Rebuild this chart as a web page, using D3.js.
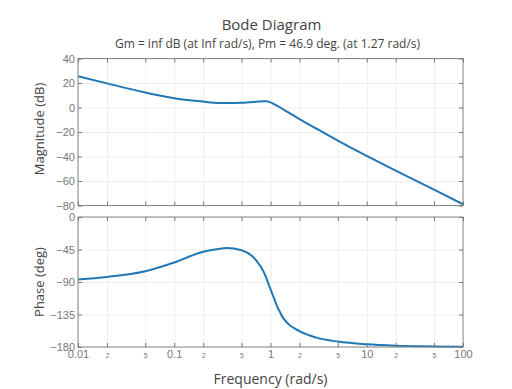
<!DOCTYPE html>
<html>
<head>
<meta charset="utf-8">
<script src="https://cdn.jsdelivr.net/npm/d3@7"></script>
<style>
  body { margin: 0; background: #fff; }
  svg { font-family: "Open Sans", sans-serif; }
  .grid line { stroke: #eee; }
  .grid .domain { display: none; }
  .ax .domain { display: none; }
  .ax line { stroke: #777; }
  .ax text { fill: #777; }
</style>
</head>
<body>
<svg id="chart"></svg>
<script>
// frequencies (rad/s)
const freqs = [0.01, 0.02, 0.05, 0.1, 0.2, 0.3, 0.35, 0.5, 0.7, 0.85, 0.9, 1.0, 1.1, 1.2, 1.25, 1.3, 1.5, 2, 3, 5, 10, 20, 50, 100];
// magnitude in dB
const magnitude = [25.5, 19.7, 12.2, 7.6, 4.8, 3.7, 3.6, 3.8, 4.6, 5.2, 5.2, 4.2, 2.6, 1.0, 0.2, -0.6, -3.6, -9.5, -17.3, -27, -39.5, -51.5, -67, -79];
// phase in degrees
const phase = [-86.5, -83, -75, -63, -48, -43.8, -43, -46, -59, -76, -84, -100, -114, -127, -131, -136, -147, -158, -167, -172.5, -176.3, -178.2, -179.2, -179.6];

const xTicks = [0.01, 0.02, 0.05, 0.1, 0.2, 0.5, 1, 2, 5, 10, 20, 50, 100];
const xMajor = [0.01, 0.1, 1, 10, 100];
const magTicks = [40, 20, 0, -20, -40, -60, -80];
const phaseTicks = [0, -45, -90, -135, -180];

const title = "Bode Diagram";
const subtitle = "Gm = inf dB (at Inf rad/s), Pm = 46.9 deg. (at 1.27 rad/s)";

const width = 512, height = 389;
const left = 78, right = 463;
const magBox = {top: 58.5, bottom: 205.5};
const phBox = {top: 217, bottom: 347};

const svg = d3.select("#chart").attr("width", width).attr("height", height);

const x = d3.scaleLog().domain([0.01, 100]).range([left, right]);
const yMag = d3.scaleLinear().domain([-80, 40]).range([magBox.bottom, magBox.top]);
const yPh = d3.scaleLinear().domain([-180, 0]).range([phBox.bottom, phBox.top]);

const fmtX = d => xMajor.includes(d) ? String(d) : String(Math.round(d / Math.pow(10, Math.floor(Math.log10(d) + 1e-9))));
const minus = s => String(s).replace("-", "\u2212");

function panel(box, y, ticks, data, showX) {
  const g = svg.append("g");
  // grid
  g.append("g").attr("class", "grid")
    .attr("transform", `translate(0,${box.bottom})`)
    .call(d3.axisBottom(x).tickValues(xTicks).tickSize(-(box.bottom - box.top)).tickFormat(""));
  g.append("g").attr("class", "grid")
    .attr("transform", `translate(${left},0)`)
    .call(d3.axisLeft(y).tickValues(ticks).tickSize(-(right - left)).tickFormat(""));

  // curve
  const line = d3.line()
    .x((d, i) => x(freqs[i]))
    .y(d => y(d))
    .curve(d3.curveMonotoneX);
  g.append("path")
    .datum(data)
    .attr("fill", "none")
    .attr("stroke", "#1f77b4")
    .attr("stroke-width", 2)
    .attr("d", line);

  // frame
  g.append("rect")
    .attr("x", left).attr("y", box.top)
    .attr("width", right - left).attr("height", box.bottom - box.top)
    .attr("fill", "none").attr("stroke", "#888").attr("stroke-width", 1);

  // ticks inside, mirrored
  const yl = g.append("g").attr("class", "ax")
    .attr("transform", `translate(${left},0)`)
    .call(d3.axisLeft(y).tickValues(ticks).tickSize(-4).tickPadding(3).tickFormat(minus));
  yl.selectAll("text").attr("font-size", 11);
  g.append("g").attr("class", "ax")
    .attr("transform", `translate(${right},0)`)
    .call(d3.axisRight(y).tickValues(ticks).tickSize(-4).tickFormat(""));
  g.append("g").attr("class", "ax")
    .attr("transform", `translate(0,${box.top})`)
    .call(d3.axisTop(x).tickValues(xTicks).tickSize(-4).tickFormat(""));
  const xb = g.append("g").attr("class", "ax")
    .attr("transform", `translate(0,${box.bottom})`)
    .call(d3.axisBottom(x).tickValues(xTicks).tickSize(-4).tickPadding(3)
      .tickFormat(showX ? fmtX : ""));
  xb.selectAll("text")
    .attr("font-size", d => xMajor.includes(d) ? 11 : 7)
    .attr("dy", d => xMajor.includes(d) ? "0.71em" : "1.1em");
  return g;
}

panel(magBox, yMag, magTicks, magnitude, false);
panel(phBox, yPh, phaseTicks, phase, true);

// titles
const cx = (left + right) / 2;
svg.append("text").attr("x", cx + 1).attr("y", 30)
  .attr("text-anchor", "middle").attr("font-size", 15).attr("fill", "#444").text(title);
svg.append("text").attr("x", cx - 3).attr("y", 48)
  .attr("text-anchor", "middle").attr("font-size", 12).attr("fill", "#444").text(subtitle);

svg.append("text").attr("x", cx).attr("y", 384)
  .attr("text-anchor", "middle").attr("font-size", 14).attr("fill", "#444").text("Frequency (rad/s)");

svg.append("text")
  .attr("transform", `translate(44,${(magBox.top + magBox.bottom) / 2 - 3}) rotate(-90)`)
  .attr("text-anchor", "middle").attr("font-size", 13).attr("fill", "#444").text("Magnitude (dB)");
svg.append("text")
  .attr("transform", `translate(44,${(phBox.top + phBox.bottom) / 2}) rotate(-90)`)
  .attr("text-anchor", "middle").attr("font-size", 13).attr("fill", "#444").text("Phase (deg)");
</script>
</body>
</html>
